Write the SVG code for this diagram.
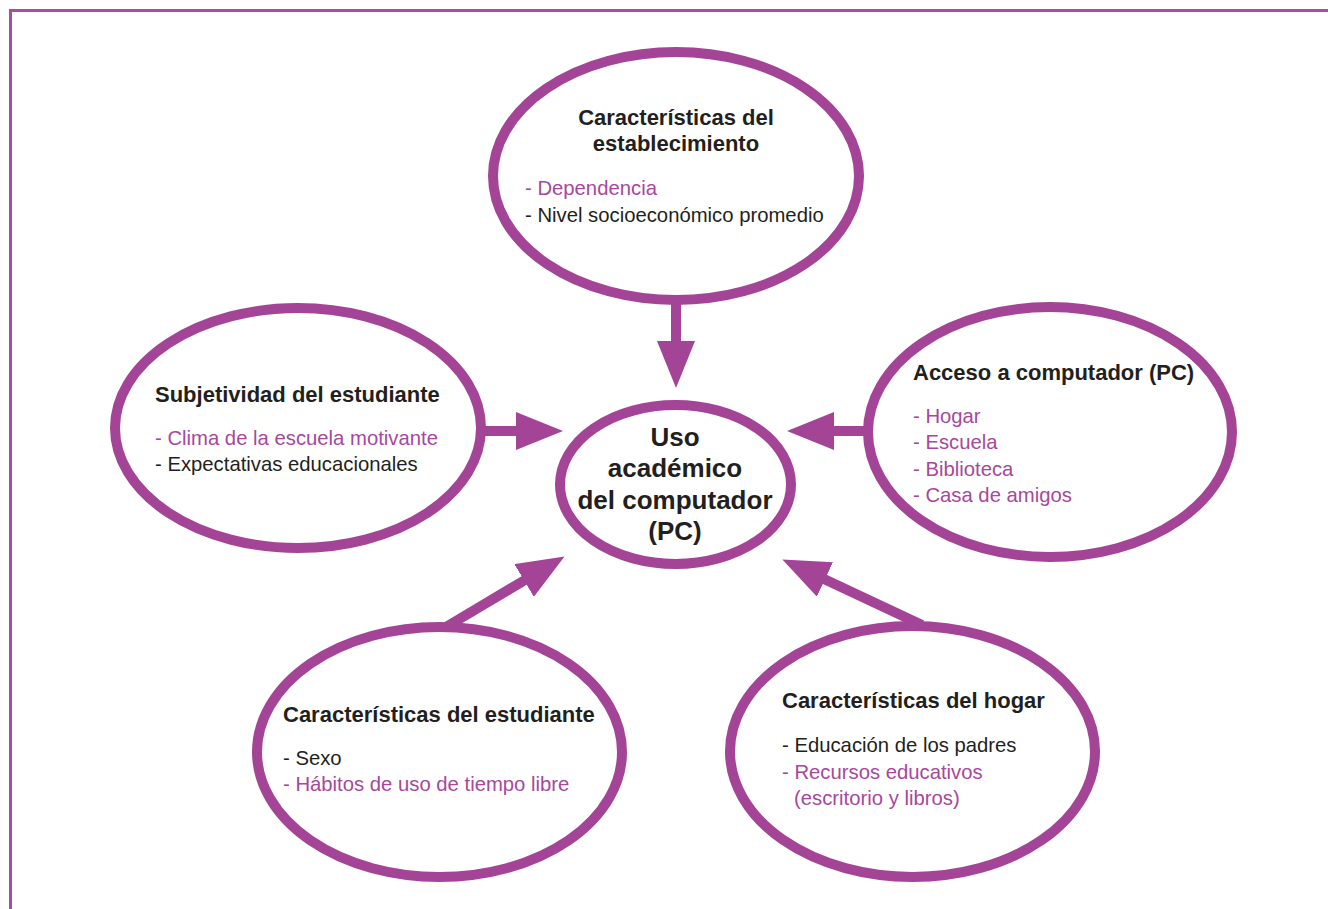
<svg xmlns="http://www.w3.org/2000/svg" width="1328" height="909" viewBox="0 0 1328 909">
<style>
.bg{fill:#ffffff}
.frame{fill:none;stroke:#a94d9f;stroke-width:3}
.node ellipse{fill:#ffffff;stroke:#a44497;stroke-width:10}
.conn line{stroke:#a44497;stroke-width:10}
.t{font-family:"Liberation Sans",Arial,Helvetica,sans-serif;font-size:22px;font-weight:bold;fill:#231f20}
.c{font-family:"Liberation Sans",Arial,Helvetica,sans-serif;font-size:26px;font-weight:bold;fill:#231f20;text-anchor:middle}
.b{font-family:"Liberation Sans",Arial,Helvetica,sans-serif;font-size:20.3px;fill:#231f20}
.p{fill:#a8479d}
.mid{text-anchor:middle}
</style>
<defs>
<marker id="ah" markerUnits="userSpaceOnUse" markerWidth="48" markerHeight="38" viewBox="0 0 48 38" refX="1" refY="19" orient="auto">
<path d="M0,0 L47,19 L0,38 z" fill="#a44497"/>
</marker>
</defs>
<rect class="bg" x="0" y="0" width="1328" height="909"/>
<path class="frame" d="M10.5,909 V10.5 H1328"/>

<g id="connectors" class="conn">
<line x1="676" y1="296" x2="676" y2="342" marker-end="url(#ah)"/>
<line x1="483" y1="431" x2="517" y2="431" marker-end="url(#ah)"/>
<line x1="867" y1="431" x2="833" y2="431" marker-end="url(#ah)"/>
<line x1="446" y1="627" x2="525" y2="580" marker-end="url(#ah)"/>
<line x1="922" y1="625" x2="824" y2="579" marker-end="url(#ah)"/>
</g>

<g id="node-establecimiento" class="node">
<ellipse cx="676" cy="176" rx="183" ry="124"/>
<text class="t mid" x="676" y="125">Características del</text>
<text class="t mid" x="676" y="151">establecimiento</text>
<text class="b p" x="525" y="195">- Dependencia</text>
<text class="b" x="525" y="222">- Nivel socioeconómico promedio</text>
</g>

<g id="node-subjetividad" class="node">
<ellipse cx="298" cy="428" rx="183" ry="120"/>
<text class="t" x="155" y="402">Subjetividad del estudiante</text>
<text class="b p" x="155" y="445">- Clima de la escuela motivante</text>
<text class="b" x="155" y="471">- Expectativas educacionales</text>
</g>

<g id="node-acceso" class="node">
<ellipse cx="1050" cy="432" rx="182" ry="125"/>
<text class="t" x="913" y="380">Acceso a computador (PC)</text>
<text class="b p" x="913" y="423">- Hogar</text>
<text class="b p" x="913" y="449">- Escuela</text>
<text class="b p" x="913" y="476">- Biblioteca</text>
<text class="b p" x="913" y="502">- Casa de amigos</text>
</g>

<g id="node-estudiante" class="node">
<ellipse cx="439.5" cy="752" rx="182.5" ry="125"/>
<text class="t" x="283" y="722">Características del estudiante</text>
<text class="b" x="283" y="765">- Sexo</text>
<text class="b p" x="283" y="791">- Hábitos de uso de tiempo libre</text>
</g>

<g id="node-hogar" class="node">
<ellipse cx="912.5" cy="751.5" rx="182.5" ry="125.5"/>
<text class="t" x="782" y="708">Características del hogar</text>
<text class="b" x="782" y="752">- Educación de los padres</text>
<text class="b p" x="782" y="779">- Recursos educativos</text>
<text class="b p" x="794" y="805">(escritorio y libros)</text>
</g>

<g id="node-uso" class="node">
<ellipse cx="675.5" cy="484.5" rx="115.5" ry="79.5"/>
<text class="c" x="675" y="446">Uso</text>
<text class="c" x="675" y="477">académico</text>
<text class="c" x="675" y="509">del computador</text>
<text class="c" x="675" y="540">(PC)</text>
</g>
</svg>
